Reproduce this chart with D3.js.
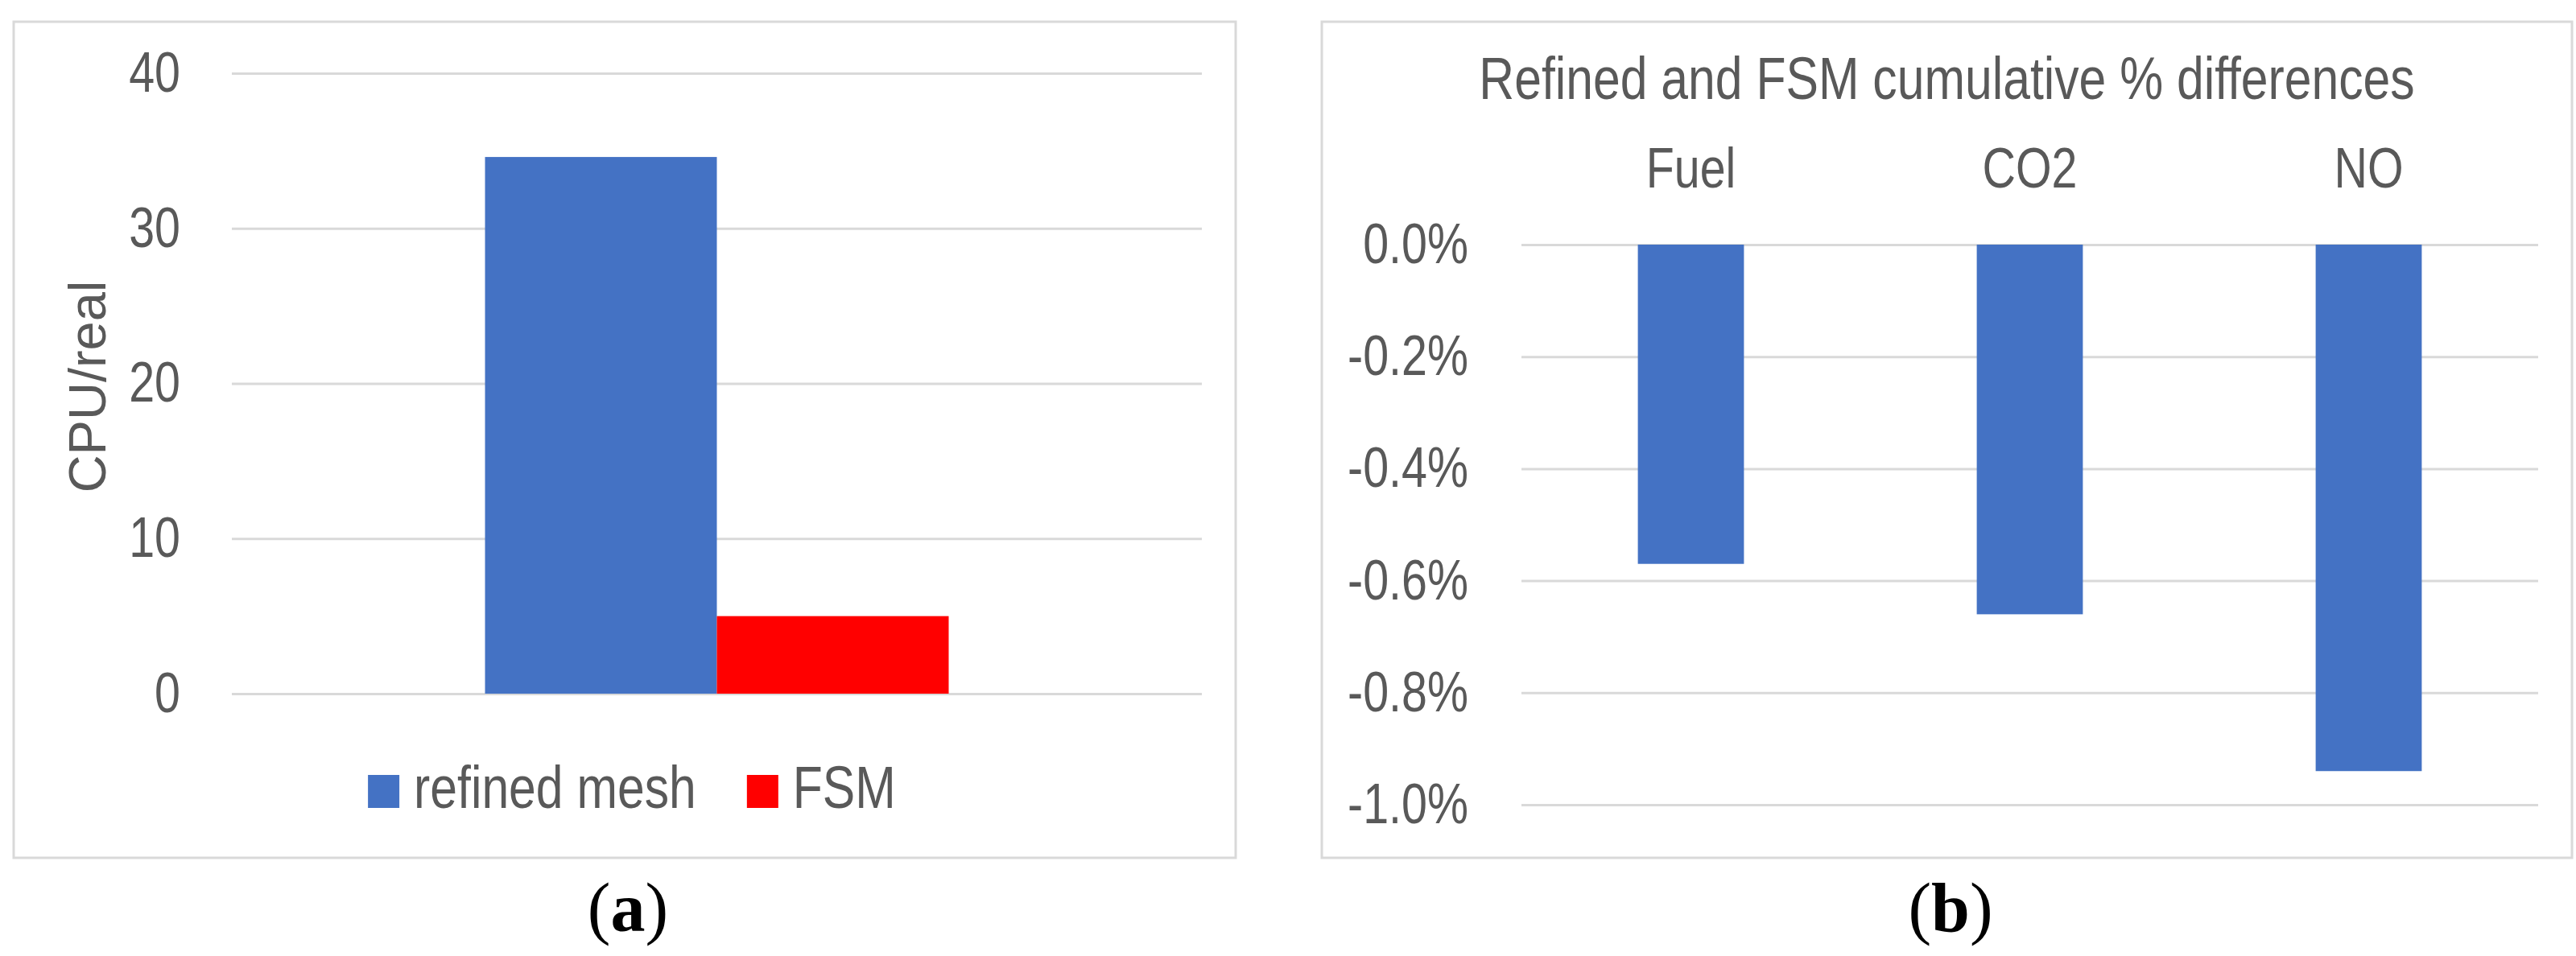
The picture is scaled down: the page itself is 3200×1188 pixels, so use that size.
<!DOCTYPE html>
<html>
<head>
<meta charset="utf-8">
<script src="https://cdn.jsdelivr.net/npm/d3@7"></script>
<style>
  body { margin: 0; background: #fff; }
  .lbl { font-family: "Liberation Sans", Arial, sans-serif; fill: #595959; }
  .cap { font-family: "Liberation Serif", serif; fill: #000; }
</style>
</head>
<body>
<script>
/*** DATA ***/
// (a) CPU/real
let seriesA = ["refined mesh", "FSM"];
let valuesA = [34.6, 5.0];
let ticksA = [0, 10, 20, 30, 40];

// (b) cumulative % differences
let categoriesB = ["Fuel", "CO2", "NO"];
let valuesB = [-0.0057, -0.0066, -0.0094];
let ticksB = [0, -0.002, -0.004, -0.006, -0.008, -0.010];

let titleB = "Refined and FSM cumulative % differences";

/* couleurs */
let colorA = d3.scaleOrdinal().domain(seriesA).range(["#4472c4", "#ff0000"]);
let blue = "#4472c4";
let gridColor = "#d9d9d9";

/* police étroite : on resserre le texte horizontalement autour de son x */
let narrow = 0.82;
function condense(sel) {
  sel.each(function () {
    let X = +this.getAttribute("x") || 0;
    d3.select(this).attr("transform",
      "translate(" + X + ",0) scale(" + narrow + ",1) translate(" + (-X) + ",0)");
  });
}

let svg = d3.select("body").append("svg")
  .attr("width", 3200)
  .attr("height", 1188);

svg.append("rect").attr("width", 3200).attr("height", 1188).attr("fill", "#fff");

/* cadres */
let frames = [[17, 27, 1535, 1066], [1642, 27, 3195, 1066]];
frames.forEach(f => {
  svg.append("rect")
    .attr("x", f[0]).attr("y", f[1])
    .attr("width", f[2] - f[0]).attr("height", f[3] - f[1])
    .attr("fill", "#fff")
    .attr("stroke", gridColor)
    .attr("stroke-width", 3);
});

/*** PANEL A ***/
let plotA = { left: 288, right: 1493, top: 91, bottom: 862 };

let yA = d3.scaleLinear().domain([0, 40]).range([plotA.bottom, plotA.top]);
let x0A = d3.scaleBand().domain(["cpu"]).range([plotA.left, plotA.right])
  .paddingInner(0.522).paddingOuter(0.261);
let x1A = d3.scaleBand().domain(seriesA).range([0, x0A.bandwidth()]);

let axA = svg.append("g")
  .attr("transform", "translate(" + plotA.left + ",0)")
  .call(d3.axisLeft(yA).tickValues(ticksA).tickSize(-(plotA.right - plotA.left)).tickPadding(64));
axA.select(".domain").remove();
axA.selectAll(".tick line").attr("stroke", gridColor).attr("stroke-width", 3);
axA.selectAll(".tick text").attr("class", "lbl").style("font-size", "70px").call(condense);

svg.append("g").selectAll("rect")
  .data(seriesA.map((s, i) => ({ s: s, v: valuesA[i] })))
  .enter().append("rect")
  .attr("x", d => x0A("cpu") + x1A(d.s))
  .attr("y", d => yA(d.v))
  .attr("width", x1A.bandwidth())
  .attr("height", d => yA(0) - yA(d.v))
  .attr("fill", d => colorA(d.s));

/* titre axe y */
svg.append("text")
  .attr("transform", "translate(131," + ((plotA.top + plotA.bottom) / 2 + 4) + ") rotate(-90)")
  .attr("text-anchor", "middle")
  .style("font-family", "'Liberation Sans', sans-serif")
  .style("font-size", "65px")
  .style("fill", "#595959")
  .text("CPU/real");

/* légende */
let legend = svg.append("g");
let lx = 0;
seriesA.forEach(s => {
  let g = legend.append("g").attr("transform", "translate(" + lx + ",0)");
  g.append("rect").attr("x", 0).attr("y", -41).attr("width", 39).attr("height", 41).attr("fill", colorA(s));
  let t = g.append("text").attr("class", "lbl").attr("x", 57).attr("y", 0)
    .style("font-size", "74px").text(s).call(condense);
  lx += 57 + t.node().getComputedTextLength() * narrow + 63;
});
let legW = lx - 63;
legend.attr("transform", "translate(" + (785 - legW / 2) + ",1004)");

/*** PANEL B ***/
let plotB = { left: 1890, right: 3153, top: 304, bottom: 1000 };

let yB = d3.scaleLinear().domain([-0.01, 0]).range([plotB.bottom, plotB.top]);
let xB = d3.scaleBand().domain(categoriesB).range([plotB.left, plotB.right])
  .paddingInner(0.687).paddingOuter(0.3435);

let pct = d => d3.format(".1%")(d).replace("\u2212", "-");

let axB = svg.append("g")
  .attr("transform", "translate(" + plotB.left + ",0)")
  .call(d3.axisLeft(yB).tickValues(ticksB).tickFormat(pct)
    .tickSize(-(plotB.right - plotB.left)).tickPadding(66));
axB.select(".domain").remove();
axB.selectAll(".tick line").attr("stroke", gridColor).attr("stroke-width", 3);
axB.selectAll(".tick text").attr("class", "lbl").style("font-size", "70px").call(condense);

svg.append("g").selectAll("rect")
  .data(categoriesB.map((c, i) => ({ c: c, v: valuesB[i] })))
  .enter().append("rect")
  .attr("x", d => xB(d.c))
  .attr("y", yB(0))
  .attr("width", xB.bandwidth())
  .attr("height", d => yB(d.v) - yB(0))
  .attr("fill", blue);

/* catégories en haut */
let catB = svg.append("g")
  .attr("transform", "translate(0,233)")
  .call(d3.axisTop(xB).tickSize(0).tickPadding(0));
catB.select(".domain").remove();
catB.selectAll(".tick text").attr("class", "lbl").attr("dy", "0").style("font-size", "70px").call(condense);

/* titre */
svg.append("text")
  .attr("class", "lbl")
  .attr("x", (1642 + 3195) / 2)
  .attr("y", 123)
  .attr("text-anchor", "middle")
  .style("font-size", "74px")
  .text(titleB)
  .call(condense);

/*** (a) (b) ***/
[["a", 780], ["b", 2423]].forEach(p => {
  let t = svg.append("text").attr("class", "cap")
    .attr("x", p[1]).attr("y", 1157)
    .attr("text-anchor", "middle")
    .style("font-size", "86px");
  t.append("tspan").text("(");
  t.append("tspan").style("font-weight", "bold").text(p[0]);
  t.append("tspan").text(")");
});
</script>
</body>
</html>
